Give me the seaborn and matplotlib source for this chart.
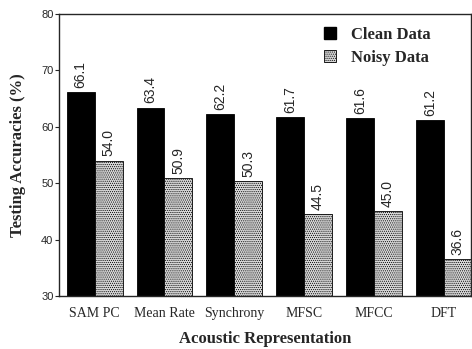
import matplotlib
matplotlib.use("Agg")
import matplotlib.pyplot as plt
import seaborn as sns
import pandas as pd
from matplotlib.patches import Patch

representations = ["SAM PC", "Mean Rate", "Synchrony", "MFSC", "MFCC", "DFT"]
clean_acc = [66.1, 63.4, 62.2, 61.7, 61.6, 61.2]
noisy_acc = [54.0, 50.9, 50.3, 44.5, 45.0, 36.6]
series = ["Clean Data", "Noisy Data"]
yticks = [30, 40, 50, 60, 70, 80]

df = pd.DataFrame({
    "rep": representations * 2,
    "acc": clean_acc + noisy_acc,
    "data": [series[0]] * len(clean_acc) + [series[1]] * len(noisy_acc),
})

sns.set_style("ticks")
plt.rcParams["font.family"] = ["Liberation Serif", "DejaVu Serif"]
plt.rcParams["hatch.color"] = "#909090"
plt.rcParams["hatch.linewidth"] = 0.5

fig = plt.figure(figsize=(4.72, 3.49), dpi=100)
ax = fig.add_axes([0.125, 0.152, 0.873, 0.808])

sns.barplot(data=df, x="rep", y="acc", hue="data", order=representations,
            hue_order=series, palette=["black", "#d8d8d8"], width=0.8,
            edgecolor="black", linewidth=0.6, legend=False, ax=ax)

# stipple the noisy bars
for bar in ax.containers[1]:
    bar.set_hatch("........")

for cont in ax.containers:
    ax.bar_label(cont, fmt="%.1f", rotation=90, padding=3,
                 fontsize=10, family="Liberation Sans")

ax.set_ylim(30, 80)
ax.set_xlim(-0.51, 5.39)
ax.set_yticks(yticks)
ax.set_yticklabels([str(t) for t in yticks], family="Liberation Sans", fontsize=8)
ax.tick_params(axis="y", length=3, width=0.8, pad=1)
ax.tick_params(axis="x", length=0, pad=8, labelsize=10)

for s in ax.spines.values():
    s.set_linewidth(1.0)
    s.set_visible(True)

ax.set_xlabel("Acoustic Representation", fontsize=12, fontweight="bold", labelpad=8)
ax.set_ylabel("Testing Accuracies (%)", fontsize=12, fontweight="bold", labelpad=11)

handles = [Patch(facecolor="black", edgecolor="black"),
           Patch(facecolor="#d8d8d8", edgecolor="black", hatch="........", linewidth=0.6)]
fig.legend(handles, series, loc="upper left", bbox_to_anchor=(0.655, 0.967),
           frameon=False, handlelength=0.7, handleheight=0.7, handletextpad=0.9,
           labelspacing=0.45, prop={"family": "Liberation Serif", "weight": "bold", "size": 12})

fig.savefig("out.png", dpi=100)
